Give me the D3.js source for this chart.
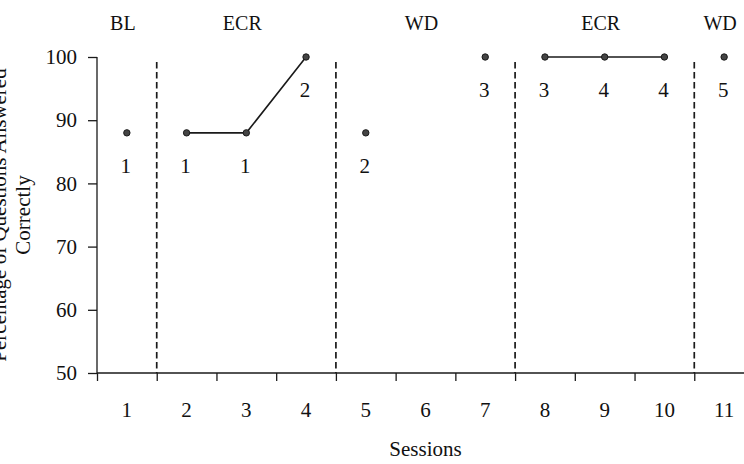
<!DOCTYPE html>
<html>
<head>
<meta charset="utf-8">
<script src="https://cdn.jsdelivr.net/npm/d3@7"></script>
<style>
  html, body { margin: 0; padding: 0; background: #fff; }
  svg { display: block; }
  text { font-family: "Liberation Serif", "Times New Roman", serif; fill: #111; }
</style>
</head>
<body>
<svg id="chart" width="744" height="464"></svg>
<script>
// ---- data ----
const sessions = [1, 2, 3, 4, 5, 6, 7, 8, 9, 10, 11];
const percentCorrect = [88, 88, 88, 100, 88, null, 100, 100, 100, 100, 100];
const pointLabels = ["1", "1", "1", "2", "2", null, "3", "3", "4", "4", "5"];
const phaseNames = ["BL", "ECR", "WD", "ECR", "WD"];
const phaseStart = [1, 2, 5, 8, 11];
const phaseEnd = [1, 4, 7, 10, 11];
const yTicks = [50, 60, 70, 80, 90, 100];
const yTitleLines = ["Percentage of Questions Answered", "Correctly"];
const xTitle = "Sessions";

// ---- layout ----
const svg = d3.select("#chart");
const x = d3.scaleLinear().domain([0.5, 11.5]).range([97, 754]);
const y = d3.scaleLinear().domain([50, 100]).range([373, 57]);
const ink = "#1a1a1a";

// y axis
const yAxis = svg.append("g")
  .attr("transform", `translate(${x(0.5)},0)`)
  .call(d3.axisLeft(y).tickValues(yTicks).tickSize(9).tickPadding(11));
yAxis.selectAll("text").style("font-size", "21px").style("font-family", "Liberation Serif").attr("fill", ink);
yAxis.selectAll("path,line").attr("stroke", ink).attr("stroke-width", 1.3);
yAxis.select(".domain").attr("d", `M0,${y(100)}V${y(50)}`);

// x axis: ticks at session boundaries, labels at sessions
const boundaries = sessions.map(s => s - 0.5).concat([11.5]);
const xAxis = svg.append("g")
  .attr("transform", `translate(0,${y(50)})`)
  .call(d3.axisBottom(x).tickValues(boundaries).tickSize(8).tickFormat(""));
xAxis.selectAll("path,line").attr("stroke", ink).attr("stroke-width", 1.3);
xAxis.select(".domain").attr("d", `M${x(0.5)},0H744`);

svg.append("g").selectAll("text").data(sessions).join("text")
  .attr("x", d => x(d))
  .attr("y", y(50) + 44)
  .attr("text-anchor", "middle")
  .style("font-size", "21px")
  .text(d => d);

// phase change lines
const changes = phaseStart.slice(1).map(s => s - 0.5);
svg.append("g").selectAll("line").data(changes).join("line")
  .attr("x1", d => x(d)).attr("x2", d => x(d))
  .attr("y1", y(99.2)).attr("y2", y(50))
  .attr("stroke", ink).attr("stroke-width", 1.7)
  .attr("stroke-dasharray", "6.5,3.5");

// phase labels
svg.append("g").selectAll("text").data(phaseNames).join("text")
  .attr("x", (d, i) => x((phaseStart[i] + phaseEnd[i]) / 2) - 4)
  .attr("y", 30)
  .attr("text-anchor", "middle")
  .style("font-size", "20px")
  .text(d => d);

// data lines within each phase
const pts = sessions.map((s, i) => ({ s, v: percentCorrect[i], lab: pointLabels[i] }));
const line = d3.line().defined(d => d.v !== null).x(d => x(d.s)).y(d => y(d.v));
phaseStart.forEach((ps, i) => {
  const seg = pts.filter(d => d.s >= ps && d.s <= phaseEnd[i]);
  svg.append("path").datum(seg)
    .attr("d", line)
    .attr("fill", "none")
    .attr("stroke", ink)
    .attr("stroke-width", 1.6);
});

// points
const valid = pts.filter(d => d.v !== null);
svg.append("g").selectAll("circle").data(valid).join("circle")
  .attr("cx", d => x(d.s)).attr("cy", d => y(d.v))
  .attr("r", 3.2)
  .attr("fill", "#444")
  .attr("stroke", ink)
  .attr("stroke-width", 1);

// point labels
svg.append("g").selectAll("text").data(valid).join("text")
  .attr("x", d => x(d.s) - 1)
  .attr("y", d => y(d.v) + 40)
  .attr("text-anchor", "middle")
  .style("font-size", "21px")
  .text(d => d.lab);

// axis titles
const yMid = (y(50) + y(100)) / 2;
svg.append("g").selectAll("text").data(yTitleLines).join("text")
  .attr("transform", (d, i) => `translate(${6 + i * 24},${yMid}) rotate(-90)`)
  .attr("text-anchor", "middle")
  .style("font-size", "21px")
  .text(d => d);

svg.append("text")
  .attr("x", (x(0.5) + x(11.5)) / 2)
  .attr("y", 456)
  .attr("text-anchor", "middle")
  .style("font-size", "21px")
  .text(xTitle);
</script>
</body>
</html>
